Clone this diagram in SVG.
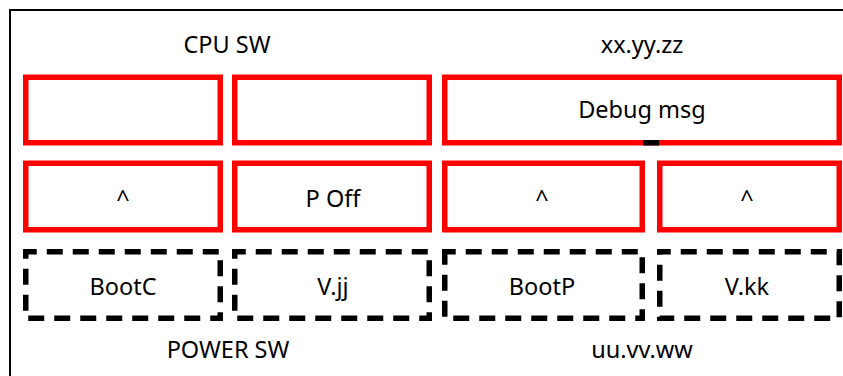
<svg xmlns="http://www.w3.org/2000/svg" width="843" height="376" viewBox="0 0 843 376">
<style>
  .red { fill: #ffffff; stroke: #ff0000; stroke-width: 5.5; }
  .dash { fill: #ffffff; stroke: #000000; stroke-width: 5.5; stroke-dasharray: 16 10; stroke-dashoffset: 5; }
  text { font-family: "Noto Sans", "Open Sans", "DejaVu Sans", sans-serif; font-size: 23.5px; fill: #000000; text-anchor: middle; }
</style>
<rect x="0" y="0" width="843" height="376" fill="#ffffff"/>
<rect id="frame" x="10" y="10" width="845" height="380" fill="none" stroke="#000000" stroke-width="2"/>
<g id="labels">
  <text x="227" y="53">CPU SW</text>
  <text x="642" y="53">xx.yy.zz</text>
  <text x="228" y="358">POWER SW</text>
  <text x="642" y="358">uu.vv.ww</text>
</g>
<g id="cpu1"><rect class="red" x="25.75" y="77.25" width="194.5" height="65.5"/></g>
<g id="cpu2"><rect class="red" x="234.75" y="77.25" width="194.5" height="65.5"/></g>
<g id="debug"><rect class="red" x="444.75" y="77.25" width="394.5" height="65.5"/><text x="642" y="118">Debug msg</text></g>
<g id="caret1"><rect class="red" x="25.75" y="163.25" width="194.5" height="66.5"/><text x="123" y="206.5">^</text></g>
<g id="poff"><rect class="red" x="234.75" y="163.25" width="194.5" height="66.5"/><text x="333" y="206.5">P Off</text></g>
<g id="caret2"><rect class="red" x="444.75" y="163.25" width="197.5" height="66.5"/><text x="542" y="206.5">^</text></g>
<g id="caret3"><rect class="red" x="659.75" y="163.25" width="179.5" height="66.5"/><text x="747" y="206.5">^</text></g>
<g id="bootc"><rect class="dash" x="25.75" y="251.75" width="194.5" height="66.5"/><text x="123" y="295">BootC</text></g>
<g id="vjj"><rect class="dash" x="234.75" y="251.75" width="194.5" height="66.5"/><text x="333" y="295">V.jj</text></g>
<g id="bootp"><rect class="dash" x="444.75" y="251.75" width="197.5" height="66.5"/><text x="542" y="295">BootP</text></g>
<g id="vkk"><rect class="dash" x="659.75" y="251.75" width="179.5" height="66.5"/><text x="747" y="295">V.kk</text></g>
<g id="connectors">
  <rect x="643" y="140" width="16" height="5.5" fill="#000000"/>
</g>
</svg>
